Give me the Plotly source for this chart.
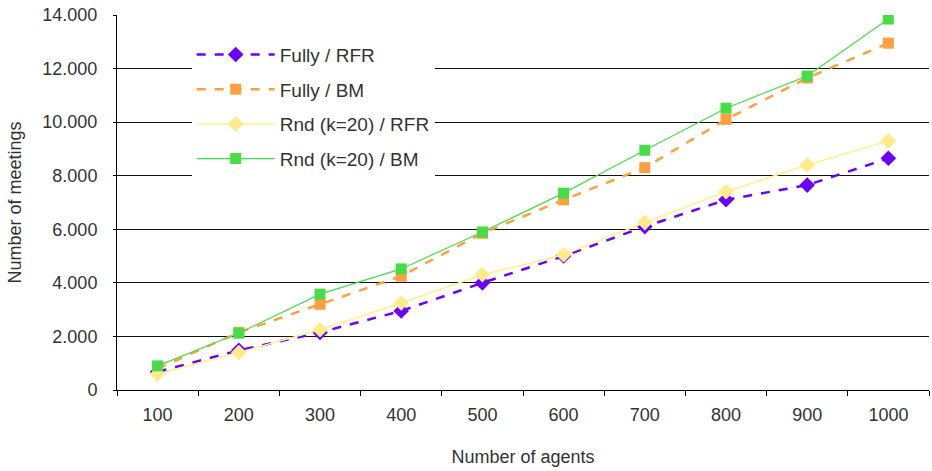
import plotly.graph_objects as go

agents = ["100", "200", "300", "400", "500", "600", "700", "800", "900", "1000"]
fully_rfr = [680, 1480, 2150, 2950, 4000, 5000, 6100, 7100, 7650, 8650]
fully_bm = [800, 2150, 3200, 4250, 5850, 7100, 8300, 10100, 11650, 12950]
rnd_rfr = [600, 1400, 2250, 3250, 4300, 5050, 6250, 7400, 8400, 9300]
rnd_bm = [900, 2120, 3580, 4520, 5900, 7350, 8950, 10520, 11720, 13850]
y_ticks = [0, 2000, 4000, 6000, 8000, 10000, 12000, 14000]

FONT = "Liberation Sans, Arial, sans-serif"
TXT = "#333333"

fig = go.Figure()
fig.add_trace(go.Scatter(
    x=agents, y=fully_rfr, name="Fully / RFR", mode="lines+markers",
    line=dict(color="#6A00FF", width=2.5, dash="dash"),
    marker=dict(symbol="diamond", size=12, color="#6A00FF"), legendgroup="a"))
fig.add_trace(go.Scatter(
    x=agents, y=fully_bm, name="Fully / BM", mode="lines+markers",
    line=dict(color="#FFA040", width=2.5, dash="dash"),
    marker=dict(symbol="square", size=11, color="#FFA040"), legendgroup="b"))
fig.add_trace(go.Scatter(
    x=agents, y=rnd_rfr, name="Rnd (k=20) / RFR", mode="lines+markers",
    line=dict(color="#FFF08C", width=1.5),
    marker=dict(symbol="diamond", size=12, color="#FFEB8A"), legendgroup="c"))
fig.add_trace(go.Scatter(
    x=agents, y=rnd_bm, name="Rnd (k=20) / BM", mode="lines+markers",
    line=dict(color="#48DD48", width=1.2),
    marker=dict(symbol="square", size=11, color="#48DD48"), legendgroup="d"))

fig.update_layout(
    width=932, height=471,
    margin=dict(l=117, r=3, t=15, b=81),
    paper_bgcolor="white", plot_bgcolor="white",
    separators=",.",
    font=dict(family=FONT, size=18, color=TXT),
    showlegend=True,
    legend=dict(
        x=0.092, y=0.945, xanchor="left", yanchor="top",
        bgcolor="white", borderwidth=0,
        font=dict(family=FONT, size=19, color=TXT),
        tracegroupgap=7, itemwidth=78,
    ),
    xaxis=dict(
        type="category", range=[-0.5, 9.5],
        showline=True, linecolor="#000000", linewidth=1,
        ticks="outside", tickson="boundaries", ticklen=5, tickcolor="#000000",
        showgrid=False, zeroline=False, ticklabelstandoff=8,
        tickfont=dict(family=FONT, size=18, color=TXT),
        title=dict(text="Number of agents", font=dict(family=FONT, size=18, color=TXT), standoff=26),
    ),
    yaxis=dict(
        range=[0, 14000], tickvals=y_ticks, tickformat=",d",
        showline=True, linecolor="#000000", linewidth=1,
        ticks="outside", ticklen=3, tickcolor="#000000",
        showgrid=True, gridcolor="#111111", gridwidth=1, zeroline=False,
        ticklabelstandoff=12,
        tickfont=dict(family=FONT, size=18, color=TXT),
        title=dict(text="Number of meetings", font=dict(family=FONT, size=18, color=TXT), standoff=16),
    ),
)

fig.write_html("out.html")
